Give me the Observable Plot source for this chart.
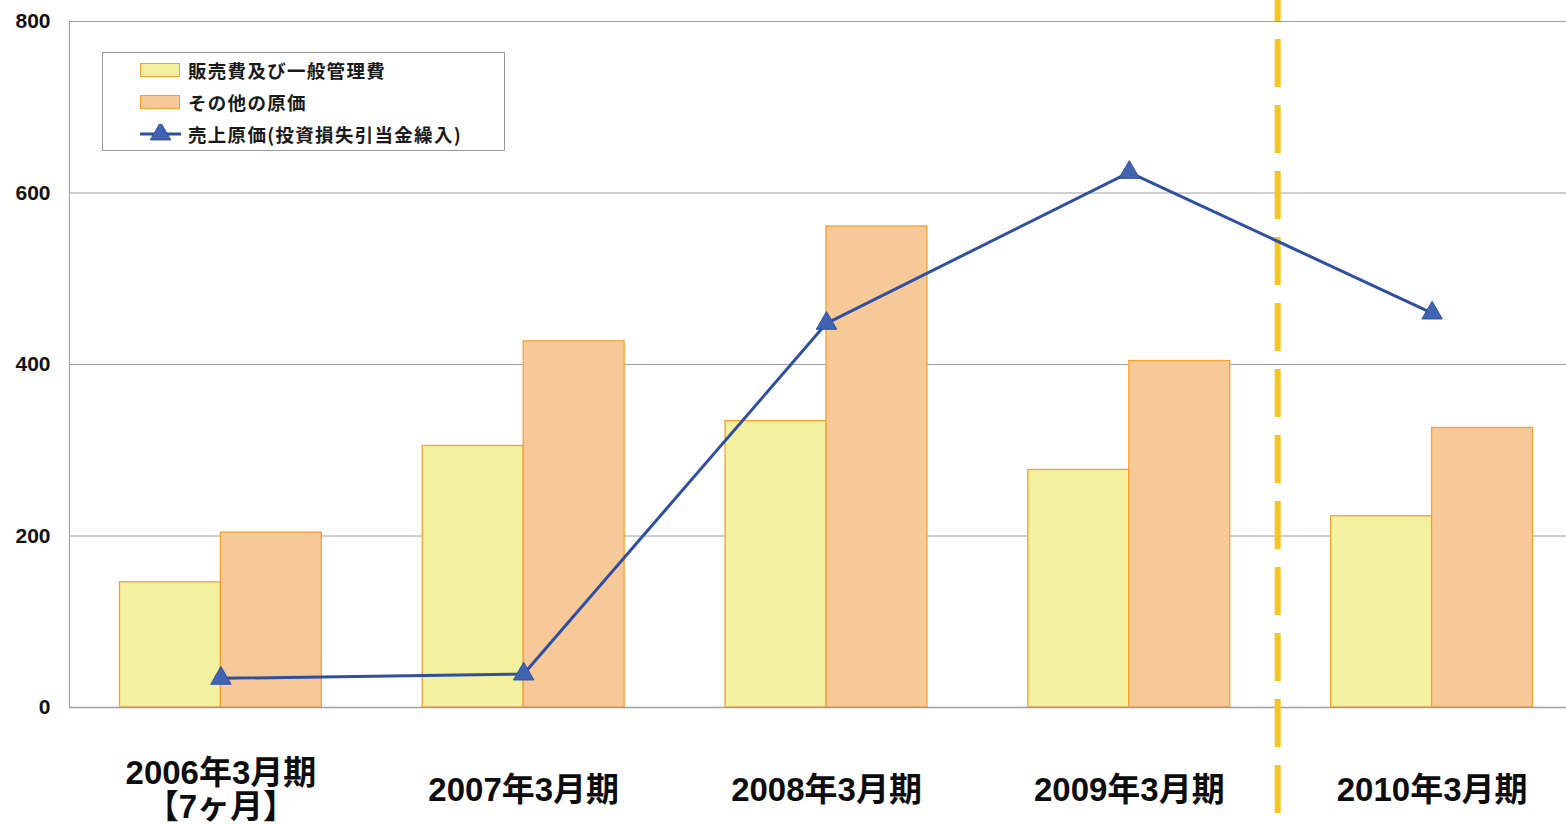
<!DOCTYPE html>
<html>
<head>
<meta charset="utf-8">
<script src="https://cdn.jsdelivr.net/npm/d3@7"></script>
<script src="https://cdn.jsdelivr.net/npm/@observablehq/plot@0.6"></script>
<style>
  html, body { margin: 0; padding: 0; background: #fff; overflow: hidden; }
  #wrap { position: relative; width: 1566px; height: 824px; overflow: hidden; }
  #chart svg { max-width: none !important; display: block; }
  #legend {
    position: absolute; left: 102px; top: 52px; width: 401px; height: 97px;
    border: 1px solid #9a9a9a; background: #fff; box-sizing: content-box;
    font-family: "Noto Sans CJK JP", sans-serif; font-weight: bold; font-size: 18.5px;
    color: #1a1a1a; letter-spacing: 1.3px;
  }
  .row { position: absolute; left: 37px; height: 32px; display: flex; align-items: center; }
  .sw { width: 38px; height: 12px; border: 1.5px solid #F6A032; margin-right: 8px; }
  .ln { width: 41px; height: 20px; margin-right: 7px; }
</style>
</head>
<body>
<div id="wrap">
  <div id="chart"></div>
  <div id="legend"></div>
</div>
<script>
// ---- data ----
const periods = ["2006年3月期\n【7ヶ月】", "2007年3月期", "2008年3月期", "2009年3月期", "2010年3月期"];
const sgaExpenses = [146, 305, 334, 277, 223];          // 販売費及び一般管理費
const otherCost = [204, 427, 561, 404, 326];            // その他の原価
const costOfSales = [34, 39, 448, 624, 460];            // 売上原価(投資損失引当金繰入)
const yTicks = [0, 200, 400, 600, 800];
const seriesNames = ["販売費及び一般管理費", "その他の原価", "売上原価(投資損失引当金繰入)"];
const dividerAt = 3.49; // boundary between 2009 and 2010 periods

const colors = {
  sga: "#F3F19F",
  other: "#F8C998",
  barStroke: "#F6A032",
  line: "#2F50A0",
  marker: "#4164B2",
  divider: "#F7C521"
};

const rows = periods.map((p, i) => ({i, period: p, sga: sgaExpenses[i], other: otherCost[i], cogs: costOfSales[i]}));
const barW = 1 / 3;

const chart = Plot.plot({
  width: 1600,
  height: 824,
  marginLeft: 69,
  marginRight: 17,
  marginTop: 21,
  marginBottom: 117,
  style: {fontFamily: "'Liberation Sans', 'Noto Sans CJK JP', sans-serif", background: "transparent", maxWidth: "none"},
  x: {domain: [-0.5, periods.length - 0.5], axis: null},
  y: {domain: [0, 800], axis: null},
  marks: [
    Plot.gridY(yTicks, {stroke: "#9e9e9e", strokeOpacity: 1, strokeWidth: 1}),
    Plot.frame({anchor: "left", stroke: "#9e9e9e"}),
    Plot.axisY(yTicks, {tickSize: 0, tickPadding: 19, fontSize: 21, fontWeight: "bold", fill: "#111",
      fontFamily: "'Liberation Sans', sans-serif"}),
    Plot.rectY(rows, {x1: d => d.i - barW, x2: d => d.i, y: "sga", fill: colors.sga, stroke: colors.barStroke, strokeWidth: 1.3}),
    Plot.rectY(rows, {x1: d => d.i, x2: d => d.i + barW, y: "other", fill: colors.other, stroke: colors.barStroke, strokeWidth: 1.3}),
    Plot.ruleY([0], {stroke: "#9e9e9e", strokeWidth: 1.5}),
    Plot.ruleX([dividerAt], {stroke: colors.divider, strokeWidth: 6, strokeDasharray: "48,18", strokeDashoffset: 27,
      insetTop: -21, insetBottom: -106}),
    Plot.line(rows, {x: "i", y: "cogs", stroke: colors.line, strokeWidth: 3}),
    Plot.dot(rows, {x: "i", y: "cogs", symbol: "triangle", r: 7.6, fill: colors.marker, stroke: colors.line, strokeWidth: 1}),
    Plot.text(rows, {x: "i", text: "period", frameAnchor: "bottom", lineAnchor: "middle", dy: 83, lineHeight: 1.03,
      fontSize: 33, fontWeight: "bold", fill: "#0d0d0d", letterSpacing: "0.4px"})
  ]
});
document.getElementById("chart").appendChild(chart);

// ---- legend ----
const legend = document.getElementById("legend");
const legendItems = [
  {name: seriesNames[0], kind: "swatch", fill: colors.sga},
  {name: seriesNames[1], kind: "swatch", fill: colors.other},
  {name: seriesNames[2], kind: "line"}
];
legendItems.forEach((it, k) => {
  const row = document.createElement("div");
  row.className = "row";
  row.style.top = (1 + k * 32) + "px";
  if (it.kind === "swatch") {
    const sw = document.createElement("div");
    sw.className = "sw";
    sw.style.background = it.fill;
    row.appendChild(sw);
  } else {
    const ns = "http://www.w3.org/2000/svg";
    const svg = document.createElementNS(ns, "svg");
    svg.setAttribute("class", "ln");
    svg.setAttribute("width", 41); svg.setAttribute("height", 20);
    const l = document.createElementNS(ns, "line");
    l.setAttribute("x1", 0); l.setAttribute("x2", 41); l.setAttribute("y1", 10); l.setAttribute("y2", 10);
    l.setAttribute("stroke", colors.line); l.setAttribute("stroke-width", 3);
    svg.appendChild(l);
    const t = document.createElementNS(ns, "path");
    t.setAttribute("d", d3.symbol(d3.symbolTriangle, Math.PI * 7.6 * 7.6)());
    t.setAttribute("transform", "translate(20.5,10)");
    t.setAttribute("fill", colors.marker); t.setAttribute("stroke", colors.line);
    svg.appendChild(t);
    row.appendChild(svg);
  }
  const tx = document.createElement("span");
  tx.textContent = it.name;
  row.appendChild(tx);
  legend.appendChild(row);
});
</script>
</body>
</html>
